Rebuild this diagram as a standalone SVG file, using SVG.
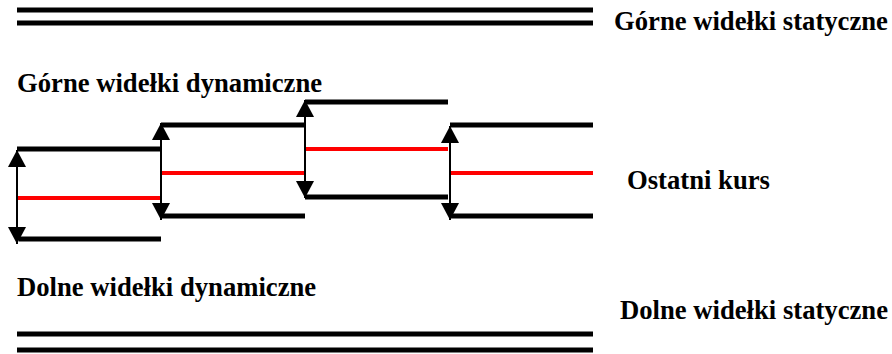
<svg xmlns="http://www.w3.org/2000/svg" width="892" height="354" viewBox="0 0 892 354">
<style>
text{font-family:'Liberation Serif','Times New Roman','DejaVu Serif',serif;font-weight:700;font-size:26.67px;fill:#000}
.band{stroke:#000;stroke-width:5;fill:none}
.price{stroke:#ff0000;stroke-width:4;fill:none}
.arr{stroke:#000;stroke-width:2;fill:none;marker-start:url(#ah);marker-end:url(#ah)}
</style>
<defs>
<marker id="ah" markerUnits="userSpaceOnUse" markerWidth="18" markerHeight="18" refX="16" refY="8.5" orient="auto-start-reverse" viewBox="0 0 16 17">
<path d="M0,0 L16,8.5 L0,17 Z" fill="#000"/>
</marker>
</defs>
<rect width="892" height="354" fill="#fff"/>
<g id="static-upper">
<line class="band" x1="17" y1="10" x2="593" y2="10"/>
<line class="band" x1="17" y1="23" x2="593" y2="23"/>
<text x="614" y="30" font-family="Liberation Serif, serif">Górne widełki statyczne</text>
</g>
<g id="static-lower">
<line class="band" x1="17" y1="334" x2="593" y2="334"/>
<line class="band" x1="17" y1="350" x2="593" y2="350"/>
<text x="620" y="319" font-family="Liberation Serif, serif">Dolne widełki statyczne</text>
</g>
<g id="label-upper-dynamic"><text x="17" y="92" font-family="Liberation Serif, serif">Górne widełki dynamiczne</text></g>
<g id="label-lower-dynamic"><text x="17" y="296" font-family="Liberation Serif, serif">Dolne widełki dynamiczne</text></g>
<g id="label-last-price"><text x="627" y="189" font-family="Liberation Serif, serif">Ostatni kurs</text></g>
<g id="step1">
<line class="band" x1="17" y1="149" x2="161" y2="149"/>
<line class="price" x1="17" y1="198" x2="161" y2="198"/>
<line class="band" x1="19" y1="239" x2="161" y2="239"/>
</g>
<g id="step2">
<line class="band" x1="161" y1="125" x2="305" y2="125"/>
<line class="price" x1="161" y1="173" x2="305" y2="173"/>
<line class="band" x1="161" y1="216" x2="305" y2="216"/>
</g>
<g id="step3">
<line class="band" x1="305" y1="102" x2="448" y2="102"/>
<line class="price" x1="305" y1="149" x2="448" y2="149"/>
<line class="band" x1="305" y1="197" x2="448" y2="197"/>
</g>
<g id="step4">
<line class="band" x1="450" y1="125" x2="593" y2="125"/>
<line class="price" x1="450" y1="173" x2="593" y2="173"/>
<line class="band" x1="450" y1="216" x2="593" y2="216"/>
</g>
<g id="connectors">
<line class="arr" x1="17" y1="150" x2="17" y2="244"/>
<line class="arr" x1="161" y1="123" x2="161" y2="220"/>
<line class="arr" x1="305" y1="100" x2="305" y2="198"/>
<line class="arr" x1="450" y1="126" x2="450" y2="220"/>
</g>
</svg>
